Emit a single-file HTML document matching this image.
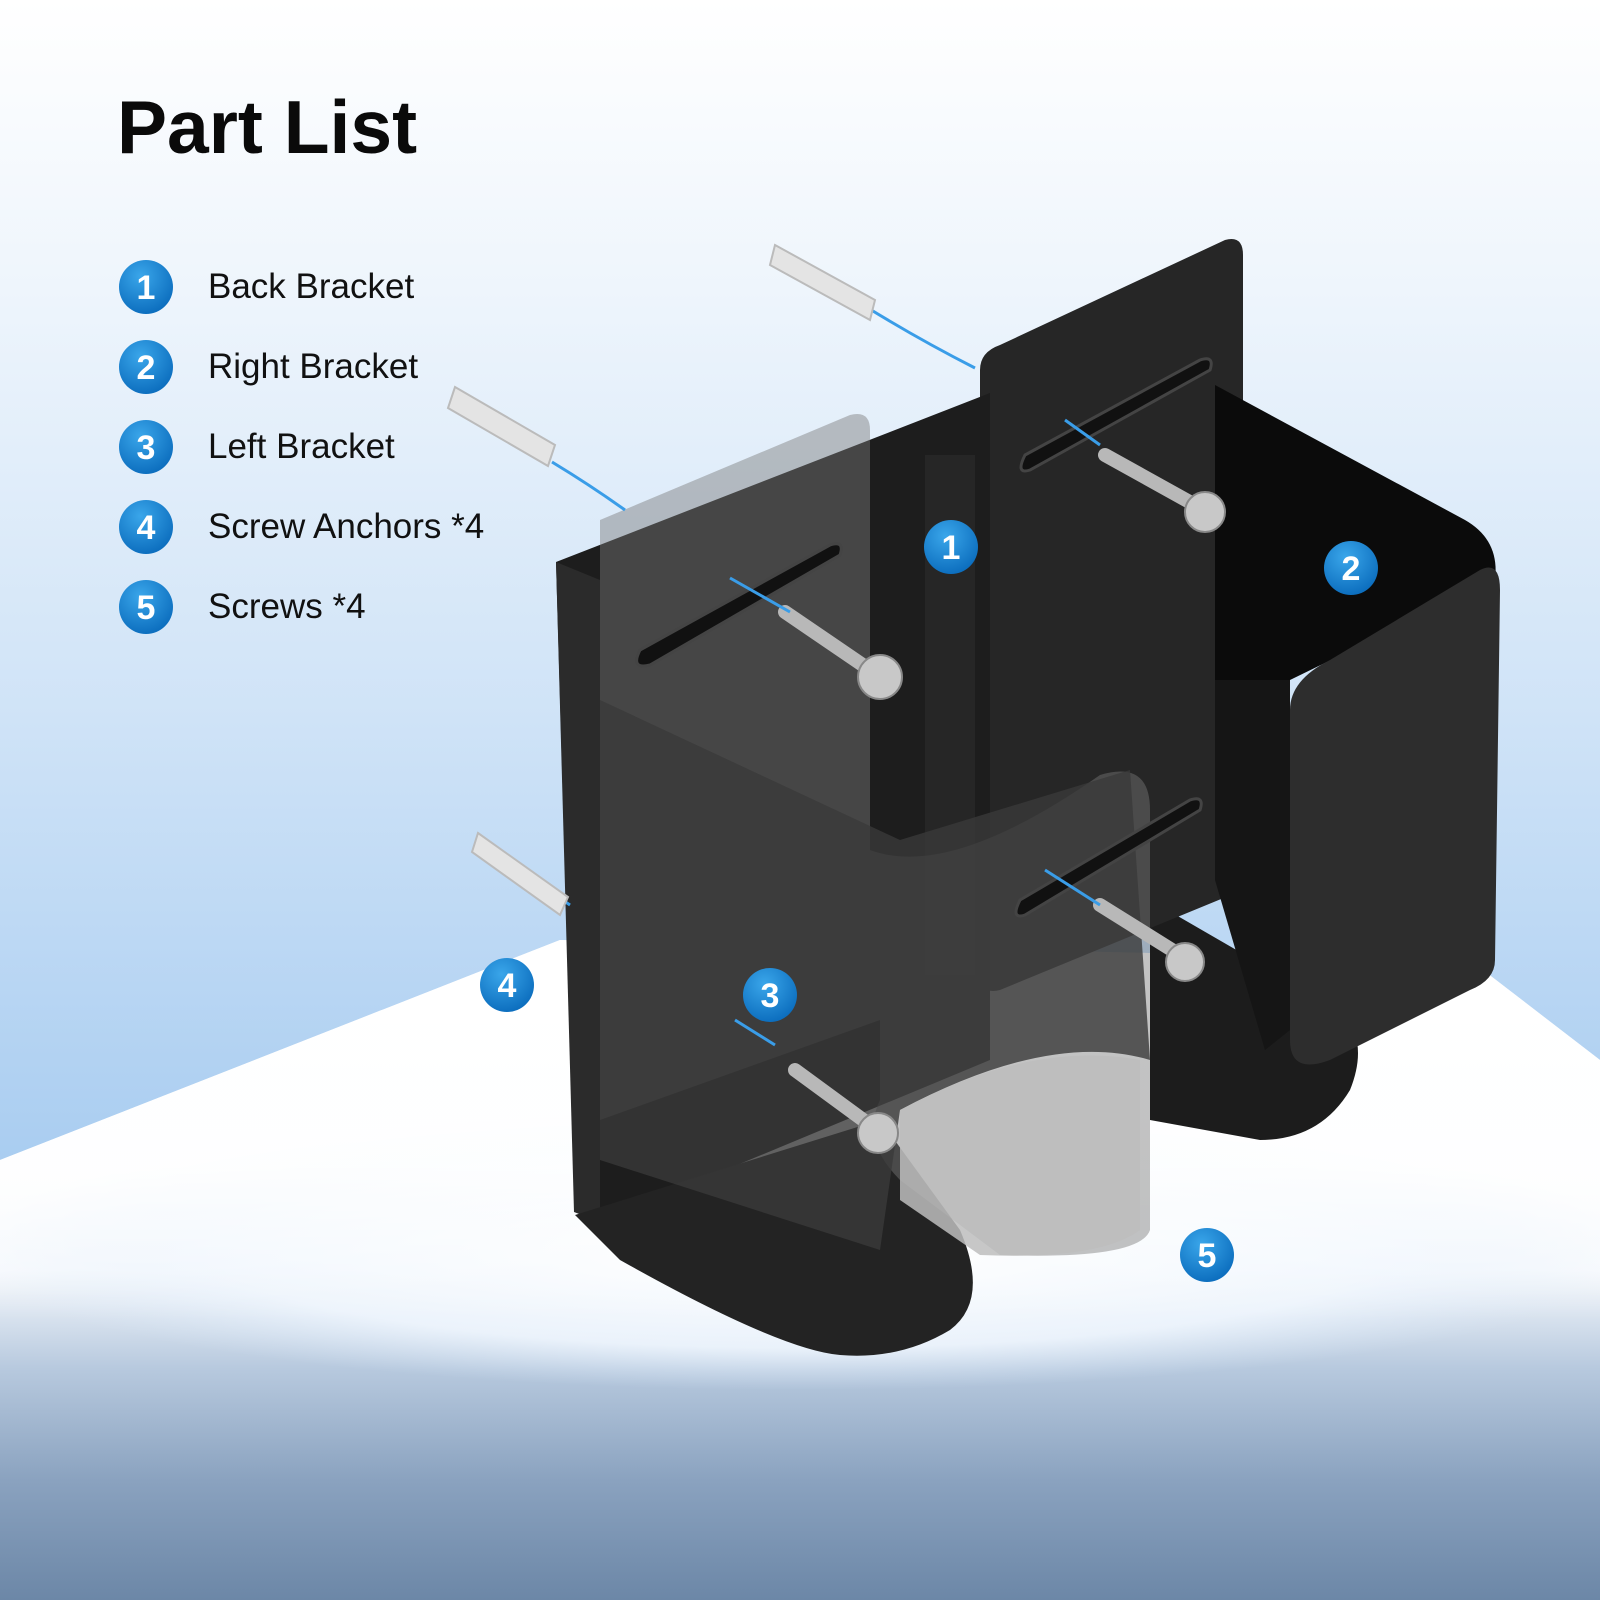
<!DOCTYPE html>
<html><head><meta charset="utf-8"><style>
html,body{margin:0;padding:0;width:1600px;height:1600px;overflow:hidden}
</style></head><body>
<svg width="1600" height="1600" viewBox="0 0 1600 1600" xmlns="http://www.w3.org/2000/svg">
<defs>
<linearGradient id="bg" x1="0" y1="0" x2="0" y2="1">
<stop offset="0" stop-color="#ffffff"/><stop offset="0.18" stop-color="#eef5fc"/><stop offset="0.45" stop-color="#cfe3f7"/><stop offset="0.75" stop-color="#a6cbf0"/></linearGradient>
<linearGradient id="fl" x1="0" y1="0" x2="0" y2="1">
<stop offset="0" stop-color="#ffffff"/><stop offset="0.5" stop-color="#f6f9fd"/><stop offset="0.65" stop-color="#b7c9de"/><stop offset="0.82" stop-color="#8aa2bf"/><stop offset="1" stop-color="#6c87a7"/></linearGradient>
<linearGradient id="wf" x1="0" y1="0" x2="0" y2="1">
<stop offset="0" stop-color="#ffffff" stop-opacity="0.9"/><stop offset="0.6" stop-color="#ffffff" stop-opacity="0.85"/><stop offset="1" stop-color="#ffffff" stop-opacity="0"/></linearGradient>
<radialGradient id="glow" cx="0.5" cy="0.5" r="0.5">
<stop offset="0" stop-color="#ffffff" stop-opacity="1"/><stop offset="0.7" stop-color="#eef5fd" stop-opacity="0.9"/><stop offset="1" stop-color="#dbe9f8" stop-opacity="0"/></radialGradient>
<radialGradient id="badge" cx="0.4" cy="0.3" r="0.7">
<stop offset="0" stop-color="#3aa6ea"/><stop offset="1" stop-color="#0d6fbf"/></radialGradient>
</defs>
<rect width="1600" height="1600" fill="url(#bg)"/>
<polygon points="0,1160 560,940 1470,960 1600,1060 1600,1600 0,1600" fill="url(#fl)"/>
<ellipse cx="800" cy="1250" rx="840" ry="140" fill="url(#glow)"/>
<polygon points="0,1160 560,940 1470,960 1600,1060 1600,1320 0,1320" fill="url(#wf)"/>

<path d="M1150,900 L1340,1010 Q1370,1040 1350,1090 Q1320,1140 1260,1140 L1150,1120 Z" fill="#1c1c1c"/>
<path d="M1000,345 L1225,240 Q1243,235 1243,255 L1243,890 L1000,990 Q980,995 980,975 L980,370 Q980,352 1000,345 Z" fill="#262626"/>
<path d="M1215,385 L1465,520 Q1500,540 1495,580 L1290,680 L1215,680 Z" fill="#0b0b0b"/>
<path d="M1215,680 L1290,680 L1290,1030 L1265,1050 L1215,880 Z" fill="#151515"/>
<path d="M1330,660 L1480,570 Q1500,560 1500,590 L1495,960 Q1495,980 1470,990 L1330,1060 Q1290,1075 1290,1040 L1290,710 Q1290,680 1330,660 Z" fill="#2d2d2d"/>
<polygon points="556,562 990,393 990,1060 600,1222 575,1212" fill="#1d1d1d"/>
<polygon points="556,562 600,580 600,1222 574,1212" fill="#2b2b2b"/>
<rect x="925" y="455" width="50" height="520" fill="#262626"/>
<path d="M575,1215 L880,1120 L960,1230 Q990,1300 950,1330 Q900,1360 840,1355 Q780,1350 620,1260 Z" fill="#232323"/>
<path d="M600,520 L850,415 Q870,410 870,430 L870,850 Q950,880 1100,775 Q1150,760 1150,810 L1150,1230 Q1140,1260 1000,1255 L900,1180 Q860,1140 880,1100 L880,1020 L600,1120 Z" fill="#7a7a7a" opacity="0.45"/>
<path d="M600,700 L900,840 L1130,770 L1150,1060 Q1050,1030 900,1110 L880,1250 L600,1160 Z" fill="#3a3a3a" opacity="0.8"/>
<path d="M900,1110 Q1030,1040 1140,1060 L1140,1230 Q1100,1260 980,1255 L900,1200 Z" fill="#bdbdbd" opacity="0.85"/>
<path d="M640,650 L830,545 Q845,540 840,555 L650,665 Q630,670 640,650Z" fill="#111" stroke="#444" stroke-width="3"/>
<path d="M1025,455 L1200,360 Q1215,355 1210,370 L1030,470 Q1015,475 1025,455Z" fill="#111" stroke="#444" stroke-width="3"/>
<path d="M1020,900 L1190,800 Q1205,795 1200,810 L1025,915 Q1010,920 1020,900Z" fill="#111" stroke="#444" stroke-width="3"/>
<g stroke="#b8b8b8" stroke-width="14" stroke-linecap="round">
<line x1="785" y1="612" x2="870" y2="670"/><line x1="1105" y1="455" x2="1195" y2="505"/>
<line x1="1100" y1="905" x2="1180" y2="955"/><line x1="795" y1="1070" x2="870" y2="1125"/></g>
<g fill="#c8c8c8" stroke="#888" stroke-width="2">
<circle cx="880" cy="677" r="22"/><circle cx="1205" cy="512" r="20"/><circle cx="1185" cy="962" r="19"/><circle cx="878" cy="1133" r="20"/></g>
<g stroke="#3a9de8" stroke-width="3" fill="none">
<path d="M975,368 Q920,340 868,308"/><path d="M625,510 Q590,485 552,462"/>
<line x1="730" y1="578" x2="790" y2="612"/><line x1="1045" y1="870" x2="1100" y2="905"/>
<line x1="735" y1="1020" x2="775" y2="1045"/><line x1="1065" y1="420" x2="1100" y2="445"/><line x1="555" y1="895" x2="570" y2="905"/></g>
<g fill="#e4e4e4" stroke="#bbb" stroke-width="2">
<path d="M775,245 L875,300 L870,320 L770,265 Z"/><path d="M455,387 L555,445 L548,466 L448,408 Z"/><path d="M478,833 L568,897 L560,915 L472,852 Z"/></g>
<g fill="url(#badge)">
<circle cx="146" cy="287" r="27"/><circle cx="146" cy="367" r="27"/><circle cx="146" cy="447" r="27"/><circle cx="146" cy="527" r="27"/><circle cx="146" cy="607" r="27"/>
<circle cx="951" cy="547" r="27"/><circle cx="1351" cy="568" r="27"/><circle cx="770" cy="995" r="27"/><circle cx="507" cy="985" r="27"/><circle cx="1207" cy="1255" r="27"/></g>
<g fill="#fff" font-family="Liberation Sans, sans-serif" font-weight="bold" font-size="34" text-anchor="middle">
<text x="146" y="299">1</text><text x="146" y="379">2</text><text x="146" y="459">3</text><text x="146" y="539">4</text><text x="146" y="619">5</text>
<text x="951" y="559">1</text><text x="1351" y="580">2</text><text x="770" y="1007">3</text><text x="507" y="997">4</text><text x="1207" y="1267">5</text></g>
<text x="117" y="153" font-family="Liberation Sans, sans-serif" font-weight="bold" font-size="75" fill="#0a0a0a">Part List</text>
<g font-family="Liberation Sans, sans-serif" font-size="35" fill="#111">
<text x="208" y="298">Back Bracket</text><text x="208" y="378">Right Bracket</text><text x="208" y="458">Left Bracket</text><text x="208" y="538">Screw Anchors *4</text><text x="208" y="618">Screws *4</text></g>
</svg>
</body></html>
